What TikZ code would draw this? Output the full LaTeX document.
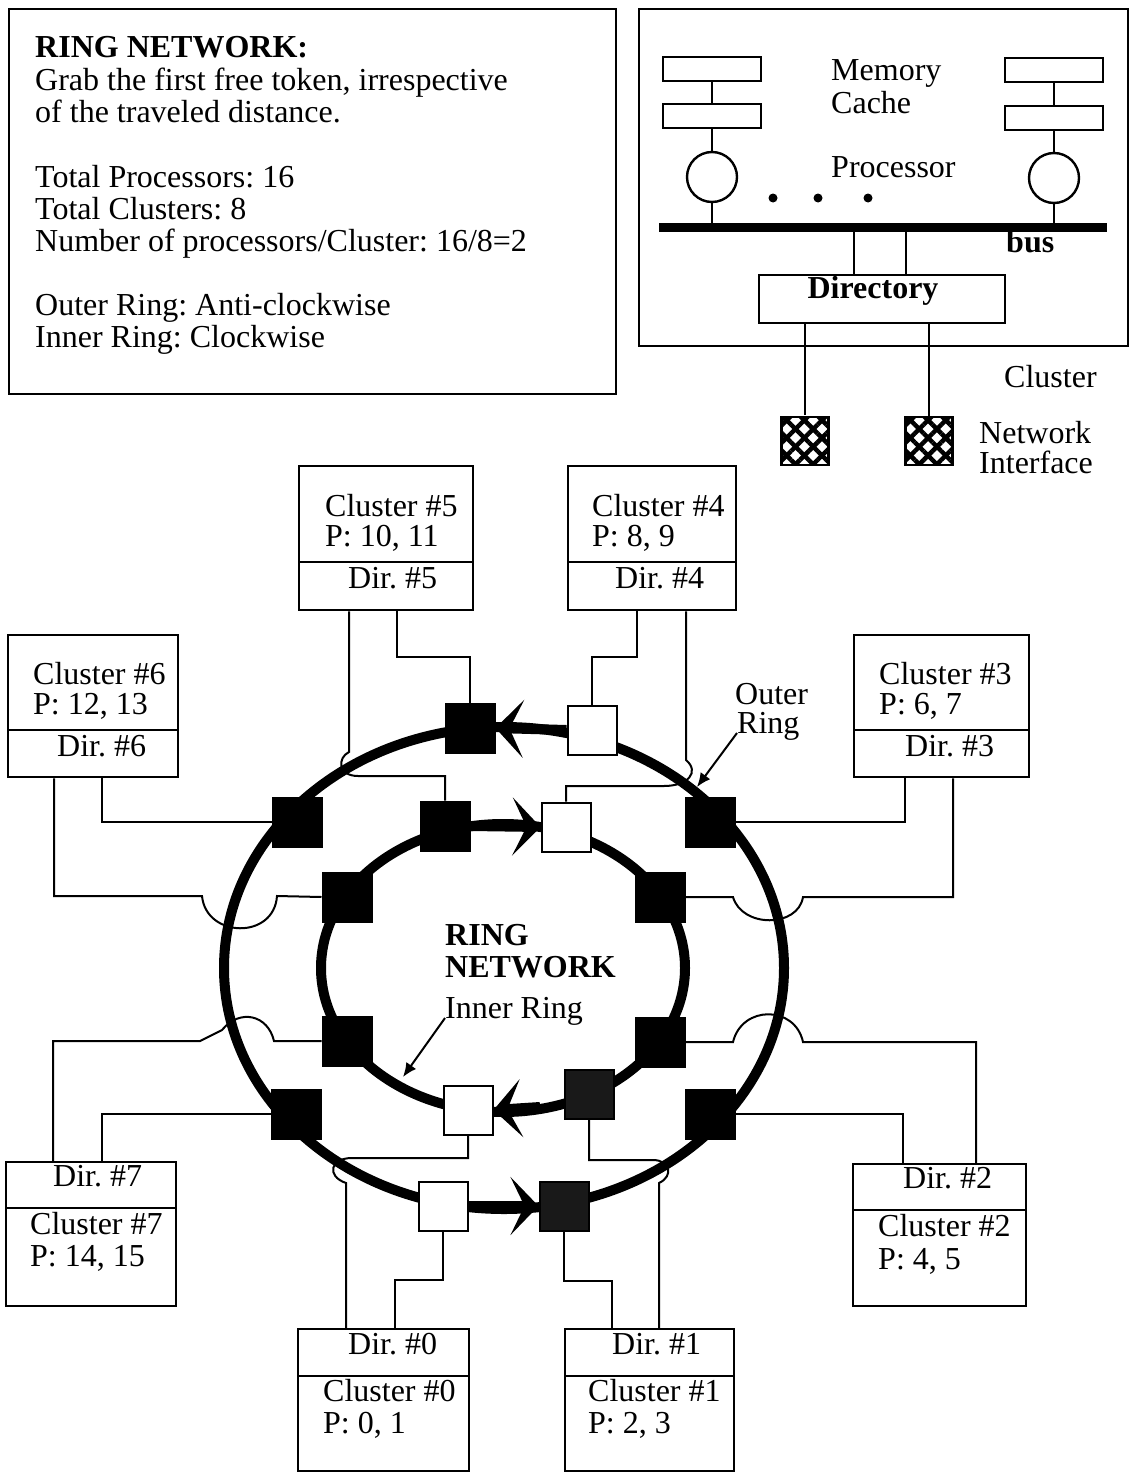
\documentclass[tikz,border=0pt]{standalone}
\usepackage{fontspec}
\setmainfont{Liberation Serif}
\usetikzlibrary{arrows.meta,patterns.meta}
\frenchspacing

\tikzset{
  txt/.style={font=\fontsize{32}{32}\selectfont, inner sep=0pt, anchor=base west},
  btxt/.style={txt, font=\fontsize{32}{32}\selectfont\bfseries},
  conn/.style={line width=2pt},
  ringline/.style={line width=10pt, line join=round},
  sq/.style={draw, line width=2pt, minimum size=49pt, inner sep=0pt},
  blk/.style={sq, fill=black},
  wht/.style={sq, fill=white},
  dblk/.style={sq, fill=black!90},
  clbox/.style={draw, line width=2.4pt, anchor=north west, inner sep=0pt},
  membox/.style={draw, line width=2.4pt, minimum width=98pt, minimum height=24pt, inner sep=0pt},
  proc/.style={draw, circle, line width=2.4pt, minimum size=50pt, inner sep=0pt},
  ni/.style={draw, line width=2.4pt, minimum width=47pt, minimum height=48pt, inner sep=0pt,
    pattern={Lines[angle=45,distance=12.5pt,line width=4.5pt]},
    postaction={pattern={Lines[angle=-45,distance=12.5pt,line width=4.5pt]}}},
  tokenhead/.style={-{Stealth[length=28pt,width=58pt,inset=14pt]}},
  ptr/.style={line width=2pt, -{Latex[length=14pt,width=12pt]}},
}

\begin{document}
\begin{tikzpicture}[x=1pt,y=-1pt]
\useasboundingbox (0,0) rectangle (1131,1472);

% info box
\node[clbox, minimum width=607pt, minimum height=385pt] (info) at (8,8) {};
\node[btxt] (t1) at (35,58) {RING NETWORK:};
\node[txt] (t2) at (35,90) {Grab the first free token, irrespective};
\node[txt] (t3) at (35,122) {of the traveled distance.};
\node[txt] (t4) at (35,187) {Total Processors: 16};
\node[txt] (t5) at (35,219) {Total Clusters: 8};
\node[txt] (t6) at (35,251) {Number of processors/Cluster: 16/8=2};
\node[txt] (t7) at (35,315) {Outer Ring: Anti-clockwise};
\node[txt] (t8) at (35,347) {Inner Ring: Clockwise};

% one cluster in detail
\node[clbox, minimum width=489pt, minimum height=337pt] (clu) at (638,8) {};
\node[membox] (memL) at (712,69) {};
\node[membox] (cacheL) at (712,116) {};
\node[membox] (memR) at (1054,70) {};
\node[membox] (cacheR) at (1054,118) {};
\node[proc] (procL) at (712,177) {};
\node[proc] (procR) at (1054,178) {};
\coordinate (busL) at (659,227);
\coordinate (busR) at (1107,227);
\draw[line width=9pt] (busL) -- (busR);
\draw[conn] (memL) -- (cacheL) (cacheL) -- (procL) (procL.south) -- (procL |- busL);
\draw[conn] (memR) -- (cacheR) (cacheR) -- (procR) (procR.south) -- (procR |- busL);
\foreach \x in {773,818,868}
  \fill (\x,198) circle[radius=4.5pt];
\node[draw, line width=2.4pt, minimum width=246pt, minimum height=48pt, inner sep=0pt] (dir) at (882,299) {};
\node[btxt, anchor=base] (dirt) at (873,298) {Directory};
\draw[conn] (854,0 |- busL) -- (854,0 |- dir.north);
\draw[conn] (906,0 |- busL) -- (906,0 |- dir.north);
\node[ni] (niL) at (805,441) {};
\node[ni] (niR) at (929,441) {};
\draw[conn] (dir.south -| niL) -- (niL.north);
\draw[conn] (dir.south -| niR) -- (niR.north);
\node[txt] (lmem) at (831,81) {Memory};
\node[txt] (lcache) at (831,113) {Cache};
\node[txt] (lproc) at (831,177) {Processor};
\node[btxt] (lbus) at (1006,252) {bus};
\node[txt] (lclu) at (1004,387) {Cluster};
\node[txt] (lnet) at (979,443) {Network};
\node[txt] (lint) at (979,473) {Interface};

% rings
\draw[ringline] (504,968) ellipse [x radius=280, y radius=241];
\draw[ringline] (503,968) ellipse [x radius=182, y radius=144];

% ring interfaces
\node[blk] (o5) at (470,728) {};
\node[wht] (o4) at (592,730) {};
\node[blk] (o3) at (710,822) {};
\node[blk] (o6) at (297,822) {};
\node[blk] (o7) at (296,1114) {};
\node[blk] (o2) at (710,1114) {};
\node[wht] (o0) at (443,1206) {};
\node[dblk] (o1) at (564,1206) {};
\node[blk] (i5) at (445,826) {};
\node[wht] (i4) at (566,827) {};
\node[blk] (i6) at (347,897) {};
\node[blk] (i3) at (660,897) {};
\node[blk] (i7) at (347,1041) {};
\node[blk] (i2) at (660,1042) {};
\node[wht] (i0) at (468,1110) {};
\node[dblk] (i1) at (589,1094) {};

% token direction
\coordinate (i1i0) at (540,1107);
\draw[ringline, tokenhead] (o4.west) -- (o5.east);
\draw[ringline, tokenhead] (o0.east) -- (o1.west);
\draw[ringline, tokenhead] (i5.east) -- (i4.west);
\draw[ringline, tokenhead] (i1i0) -- (i0.east);

% clusters
\foreach \n/\l/\t/\w/\h/\d in {5/298/465/174/144/562, 4/567/465/168/144/562,
    6/7/634/170/142/730, 3/853/634/175/142/730, 7/5/1161/170/144/1208,
    2/852/1163/173/142/1210, 0/297/1328/171/142/1376, 1/564/1328/169/142/1376}{
  \node[clbox, minimum width=\w pt, minimum height=\h pt] (c\n) at (\l,\t) {};
  \draw[line width=2.4pt] (c\n.west |- 0,\d) -- (c\n.east |- 0,\d);
}
\node[txt] (c5t) at (325,516) {Cluster \#5};
\node[txt] (c5p) at (325,546) {P: 10, 11};
\node[txt] (c5d) at (348,588) {Dir. \#5};
\node[txt] (c4t) at (592,516) {Cluster \#4};
\node[txt] (c4p) at (592,546) {P: 8, 9};
\node[txt] (c4d) at (615,588) {Dir. \#4};
\node[txt] (c6t) at (33,684) {Cluster \#6};
\node[txt] (c6p) at (33,714) {P: 12, 13};
\node[txt] (c6d) at (57,756) {Dir. \#6};
\node[txt] (c3t) at (879,684) {Cluster \#3};
\node[txt] (c3p) at (879,714) {P: 6, 7};
\node[txt] (c3d) at (905,756) {Dir. \#3};
\node[txt] (c7d) at (53,1186) {Dir. \#7};
\node[txt] (c7t) at (30,1234) {Cluster \#7};
\node[txt] (c7p) at (30,1266) {P: 14, 15};
\node[txt] (c2d) at (903,1188) {Dir. \#2};
\node[txt] (c2t) at (878,1236) {Cluster \#2};
\node[txt] (c2p) at (878,1269) {P: 4, 5};
\node[txt] (c0d) at (348,1354) {Dir. \#0};
\node[txt] (c0t) at (323,1401) {Cluster \#0};
\node[txt] (c0p) at (323,1433) {P: 0, 1};
\node[txt] (c1d) at (612,1354) {Dir. \#1};
\node[txt] (c1t) at (588,1401) {Cluster \#1};
\node[txt] (c1p) at (588,1433) {P: 2, 3};

% links directory -> ring interfaces
\draw[conn] (397,0 |- c5.south) -- (397,657) -| (o5.north);
\draw[conn] (349,0 |- c5.south) -- (349,752) .. controls (337,758) and (338,776) .. (358,776) -| (i5.north);
\draw[conn] (637,0 |- c4.south) -- (637,657) -| (o4.north);
\draw[conn] (686,0 |- c4.south) -- (686,760) .. controls (700,772) and (688,786) .. (664,786) -| (i4.north);
\draw[conn] (102,0 |- c6.south) |- (o6.west);
\draw[conn] (54,0 |- c6.south) |- (202,896) .. controls (206,938) and (274,940) .. (277,896) -- (i6.west);
\draw[conn] (905,0 |- c3.south) |- (o3.east);
\draw[conn] (953,0 |- c3.south) |- (803,897) .. controls (798,928) and (742,928) .. (733,897) -- (i3.east);
\draw[conn] (102,0 |- c7.north) |- (o7.west);
\draw[conn] (53,0 |- c7.north) |- (200,1041) -- (222,1030) .. controls (240,1008) and (268,1015) .. (274,1041) -- (i7.west);
\draw[conn] (903,0 |- c2.north) |- (o2.east);
\draw[conn] (976,0 |- c2.north) |- (803,1042) .. controls (795,1005) and (742,1005) .. (733,1042) -- (i2.east);
\draw[conn] (395,0 |- c0.north) -- (395,1280) -| (o0.south);
\draw[conn] (346,0 |- c0.north) -- (346,1183) .. controls (326,1176) and (330,1158) .. (352,1158) -| (i0.south);
\draw[conn] (612,0 |- c1.north) -- (612,1281) -| (o1.south);
\draw[conn] (659,0 |- c1.north) -- (659,1183) .. controls (674,1176) and (670,1160) .. (653,1160) -| (i1.south);

% labels of the rings
\node[btxt] (rn1) at (445,945) {RING};
\node[btxt] (rn2) at (445,977) {NETWORK};
\node[txt] (irl) at (445,1018) {Inner Ring};
\node[txt] (orl1) at (735,704) {Outer};
\node[txt] (orl) at (737,733) {Ring};
\coordinate (otip) at (697,787);
\coordinate (itip) at (403,1077);
\draw[ptr] (orl.base west) -- (otip);
\draw[ptr] (irl.base west) -- (itip);
\end{tikzpicture}
\end{document}
